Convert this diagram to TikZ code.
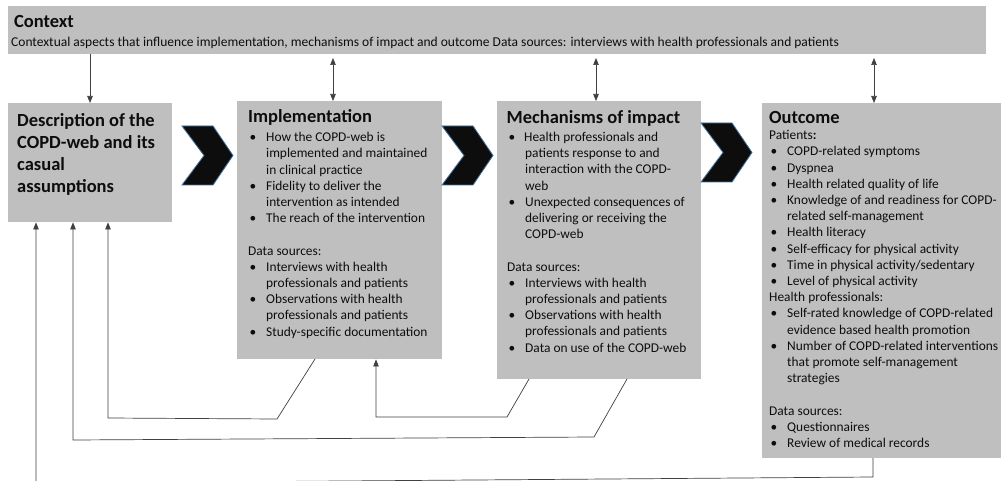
\documentclass[tikz,border=0pt]{standalone}
\usepackage{fontspec}
\setmainfont{Carlito}
\usetikzlibrary{arrows.meta,calc}
\definecolor{boxgray}{HTML}{BFBFBF}
\definecolor{chevfill}{HTML}{0D0D0D}
\definecolor{chevline}{HTML}{41719C}
\definecolor{linecol}{HTML}{404040}
\definecolor{txt}{HTML}{0D0D0D}
\newlength\bw
\setlength\bw{18pt}
\newcommand\bulx{\makebox[\bw][l]{\hspace{1.5pt}\textbullet}}
\newcommand\indx{\hspace*{\bw}}
\newcommand\bodyfnt{\fontsize{13.4}{16.2}\selectfont}
\newcommand\titlefnt{\fontsize{18.5}{22}\selectfont\bfseries}
\tikzset{
  box/.style={fill=boxgray, draw=none, inner sep=0pt, anchor=north west},
  txtnode/.style={inner sep=0pt, text=txt, align=left},
  titlenode/.style={txtnode, font=\titlefnt},
  bodynode/.style={txtnode, font=\bodyfnt, anchor=north west},
  conn/.style={draw=linecol, line width=0.7pt},
  arr/.style={conn, -{Triangle[length=7pt,width=5.5pt]}},
  darr/.style={conn, {Triangle[length=7pt,width=5.5pt]}-{Triangle[length=7pt,width=5.5pt]}},
  chev/.pic={
    \filldraw[fill=chevfill, draw=chevline, line width=0.8pt, line join=miter]
      (0,0) -- (31,0) -- (51,29.5) -- (31,59) -- (0,59) -- (22,29.5) -- cycle;
  }
}
\begin{document}
\begin{tikzpicture}[x=1pt, y=-1pt]
\useasboundingbox (0,0) rectangle (1001,481);
\fill[white] (0,0) rectangle (1001,481);

% boxes
\node[box, minimum width=978pt, minimum height=48pt] (ctx) at (8,6) {};
\node[box, minimum width=164pt, minimum height=119pt] (desc) at (8,103) {};
\node[box, minimum width=205pt, minimum height=258pt] (impl) at (237,101) {};
\node[box, minimum width=204pt, minimum height=278pt] (mech) at (497,101) {};
\node[box, minimum width=245pt, minimum height=355pt] (outc) at (762,103) {};

% chevrons
\pic at (182,126) {chev};
\pic at (442,126) {chev};
\pic at (701,123) {chev};

% context text
\node[titlenode, anchor=base west] (ctxt) at (14,28) {Context};
\node[txtnode, anchor=base west, font={\fontsize{13.5}{15}\selectfont}] (ctxs) at (11,46.5) {Contextual aspects that influence implementation, mechanisms of impact and outcome Data sources: interviews with health professionals and patients};

% description text
\node[titlenode, anchor=north west] (desct) at (17,110.6) {\strut Description of the\\COPD-web and its\\casual\\assumptions};

% implementation
\node[titlenode, anchor=base west] (implt) at (248,123) {Implementation};
\node[bodynode] (implb) at (248,130.2) {\setlength\bw{18pt}\strut
\bulx How the COPD-web is\\
\indx implemented and maintained\\
\indx in clinical practice\\
\bulx Fidelity to deliver the\\
\indx intervention as intended\\
\bulx The reach of the intervention\\
\mbox{}\\
Data sources:\\
\bulx Interviews with health\\
\indx professionals and patients\\
\bulx Observations with health\\
\indx professionals and patients\\
\bulx Study-specific documentation};

% mechanisms
\node[titlenode, anchor=base west] (mecht) at (506.5,124) {Mechanisms of impact};
\node[bodynode] (mechb) at (507,129.9) {\setlength\bw{17pt}\strut
\bulx Health professionals and\\
\indx patients response to and\\
\indx interaction with the COPD-\\
\indx web\\
\bulx Unexpected consequences of\\
\indx delivering or receiving the\\
\indx COPD-web\\
\mbox{}\\
Data sources:\\
\bulx Interviews with health\\
\indx professionals and patients\\
\bulx Observations with health\\
\indx professionals and patients\\
\bulx Data on use of the COPD-web};

% outcome
\node[titlenode, anchor=base west] (outct) at (769,124) {Outcome};
\node[bodynode] (outcb) at (769,128.2) {\setlength\bw{19pt}\strut
Patients\textbf{:}\\
\bulx COPD-related symptoms\\
\bulx Dyspnea\\
\bulx Health related quality of life\\
\bulx Knowledge of and readiness for COPD-\\
\indx related self-management\\
\bulx Health literacy\\
\bulx Self-efficacy for physical activity\\
\bulx Time in physical activity/sedentary\\
\bulx Level of physical activity\\
Health professionals:\\
\bulx Self-rated knowledge of COPD-related\\
\indx evidence based health promotion\\
\bulx Number of COPD-related interventions\\
\indx that promote self-management\\
\indx strategies\\
\mbox{}\\
Data sources:\\
\bulx Questionnaires\\
\bulx Review of medical records};

% context arrows
\coordinate (c1) at (90,54);
\coordinate (c2) at (333,58);
\coordinate (c3) at (596,58);
\coordinate (c4) at (874,58);
\draw[arr] (c1) -- (c1 |- desc.north);
\draw[darr] (c2) -- (c2 |- impl.north);
\draw[darr] (c3) -- (c3 |- mech.north);
\draw[darr] (c4) -- (c4 |- outc.north);

% feedback connectors
\coordinate (i1) at (315,359);
\coordinate (i1a) at (277,419);
\coordinate (i1b) at (108,418);
\draw[arr] (i1) -- (i1a) -- (i1b) -- (i1b |- desc.south);

\coordinate (m1) at (529,379);
\coordinate (m1a) at (507,417);
\coordinate (m1b) at (376,417);
\draw[arr] (m1) -- (m1a) -- (m1b) -- (m1b |- impl.south);

\coordinate (m2) at (627,379);
\coordinate (m2a) at (594,437);
\coordinate (m2b) at (73,440);
\draw[arr] (m2) -- (m2a) -- (m2b) -- (m2b |- desc.south);

\coordinate (o1) at (873,458);
\coordinate (o1a) at (873,477);
\coordinate (o1b) at (36,483.3);
\draw[arr] (o1) -- (o1a) -- (o1b) -- (o1b |- desc.south);
\end{tikzpicture}
\end{document}
